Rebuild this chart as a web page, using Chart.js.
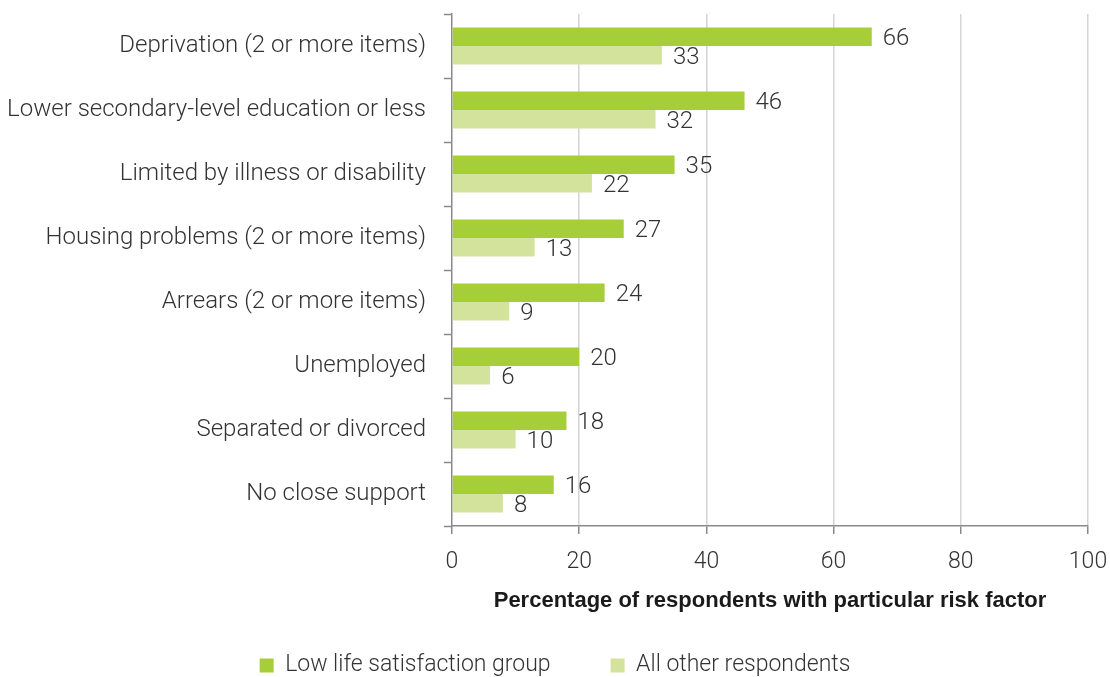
<!DOCTYPE html>
<html>
<head>
<meta charset="utf-8">
<title>Risk factors and life satisfaction</title>
<script src="https://cdn.jsdelivr.net/npm/chart.js@4.4.1/dist/chart.umd.min.js"></script>
<style>
  html, body { margin: 0; padding: 0; background: #fff; overflow: hidden; }
</style>
</head>
<body>
<canvas id="riskChart" width="1110" height="677"></canvas>
<script>
// risk factors, top to bottom
var categories = [
  'Deprivation (2 or more items)',
  'Lower secondary-level education or less',
  'Limited by illness or disability',
  'Housing problems (2 or more items)',
  'Arrears (2 or more items)',
  'Unemployed',
  'Separated or divorced',
  'No close support'
];

// % of respondents in each group
var lowSatisfaction = [66, 46, 35, 27, 24, 20, 18, 16];
var otherRespondents = [33, 32, 22, 13, 9, 6, 10, 8];

var xTicks = [0, 20, 40, 60, 80, 100];

var lightFont = 'Roboto, "Liberation Sans", Arial, sans-serif';
var boldFont = '"Liberation Sans", Arial, sans-serif';
var axisGrey = '#8a8a8a';

// numbers printed just past the end of each bar
var valueLabels = {
  id: 'valueLabels',
  afterDatasetsDraw: function (chart) {
    var ctx = chart.ctx;
    ctx.save();
    ctx.font = '300 24px ' + lightFont;
    ctx.fillStyle = '#333';
    ctx.textBaseline = 'middle';
    ctx.textAlign = 'left';
    chart.data.datasets.forEach(function (ds, i) {
      chart.getDatasetMeta(i).data.forEach(function (bar, j) {
        ctx.fillText(ds.data[j], bar.x + 11, bar.y + 2.5);
      });
    });
    ctx.restore();
  }
};

new Chart(document.getElementById('riskChart'), {
  type: 'bar',
  data: {
    labels: categories,
    datasets: [
      {
        label: 'Low life satisfaction group',
        data: lowSatisfaction,
        backgroundColor: '#a6ce39'
      },
      {
        label: 'All other respondents',
        data: otherRespondents,
        backgroundColor: '#d3e39b'
      }
    ]
  },
  options: {
    indexAxis: 'y',
    responsive: false,
    animation: false,
    categoryPercentage: 0.58,
    barPercentage: 1,
    layout: {
      padding: { top: 14, right: 0, bottom: -10, left: 0 }
    },
    scales: {
      x: {
        min: 0,
        max: 100,
        afterBuildTicks: function (scale) {
          scale.ticks = xTicks.map(function (v) { return { value: v }; });
        },
        afterFit: function (scale) {
          scale.height = 68;
          scale.paddingRight = 22;
        },
        grid: {
          color: function (c) { return c.index === 0 ? 'rgba(0,0,0,0)' : '#d4d4d4'; },
          lineWidth: 1.5,
          tickLength: 8,
          tickColor: axisGrey,
          tickWidth: 1.5
        },
        border: { display: true, color: axisGrey, width: 1.5 },
        ticks: {
          padding: 14,
          color: '#333',
          font: { family: lightFont, size: 23, weight: 300 }
        },
        title: {
          display: true,
          text: 'Percentage of respondents with particular risk factor',
          color: '#1a1a1a',
          font: { family: boldFont, size: 22, weight: 'bold' },
          padding: { top: 0, bottom: -19.7 }
        }
      },
      y: {
        afterFit: function (scale) {
          scale.width = 452;
          scale.paddingTop = 0;
          scale.paddingBottom = 0;
        },
        grid: {
          offset: true,
          drawOnChartArea: false,
          tickLength: 8,
          tickColor: axisGrey,
          tickWidth: 1.5
        },
        border: { display: true, color: axisGrey, width: 1.5 },
        ticks: {
          padding: 18,
          color: '#333',
          font: { family: lightFont, size: 24, weight: 300 }
        }
      }
    },
    plugins: {
      legend: {
        position: 'bottom',
        labels: {
          boxWidth: 14,
          boxHeight: 14,
          padding: 60,
          color: '#333',
          font: { family: lightFont, size: 23, weight: 300 }
        }
      },
      tooltip: { enabled: false }
    }
  },
  plugins: [valueLabels]
});
</script>
</body>
</html>
